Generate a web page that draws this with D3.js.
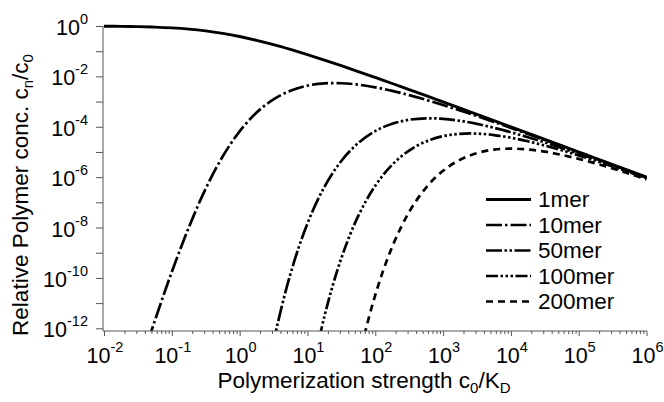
<!DOCTYPE html>
<html><head><meta charset="utf-8">
<script src="https://cdn.jsdelivr.net/npm/d3@7"></script>
<style>
html,body{margin:0;padding:0;background:#fff;}
svg{display:block;}
text{font-family:"Liberation Sans",Arial,Helvetica,sans-serif;fill:#000;}
</style></head><body>
<svg id="chart" width="664" height="402"></svg>
<script>
// Polymerization strength c0/KD (x), quarter-decade samples
const kValues = [0.01, 0.0178, 0.0316, 0.0562, 0.1, 0.178, 0.316, 0.562, 1, 1.78, 3.16, 5.62, 10, 17.8, 31.6, 56.2, 100, 178, 316, 562, 1000, 1780, 3160, 5620, 1e4, 1.78e4, 3.16e4, 5.62e4, 1e5, 1.78e5, 3.16e5, 5.62e5, 1e6];
// Relative polymer concentration cn/c0 for each series
const mer1 = [0.980, 0.966, 0.941, 0.901, 0.839, 0.751, 0.638, 0.509, 0.382, 0.270, 0.182, 0.117, 0.0730, 0.0444, 0.0265, 0.0156, 0.00905, 0.00522, 0.00299, 0.00171, 9.69e-4, 5.49e-4, 3.11e-4, 1.76e-4, 9.9e-5, 5.58e-5, 3.14e-5, 1.77e-5, 9.97e-6, 5.61e-6, 3.16e-6, 1.78e-6, 9.99e-7];
const mer10 = [8.1e-19, 1.3e-16, 1.7e-14, 2.0e-12, 1.73e-10, 1.01e-8, 3.51e-7, 6.6e-6, 6.61e-5, 3.67e-4, 1.23e-3, 2.70e-3, 4.29e-3, 5.28e-3, 5.35e-3, 4.69e-3, 3.68e-3, 2.66e-3, 1.80e-3, 1.17e-3, 7.29e-4, 4.44e-4, 2.65e-4, 1.56e-4, 9.05e-5, 5.22e-5, 2.99e-5, 1.71e-5, 9.69e-6, 5.49e-6, 3.10e-6, 1.75e-6, 9.90e-7];
const mer50 = [null, null, null, null, null, null, null, null, null, 6.8e-17, 2.78e-13, 1.45e-10, 1.45e-8, 4.11e-7, 4.38e-6, 2.27e-5, 6.76e-5, 1.32e-4, 1.90e-4, 2.16e-4, 2.06e-4, 1.72e-4, 1.30e-4, 9.12e-5, 6.07e-5, 3.86e-5, 2.39e-5, 1.44e-5, 8.53e-6, 4.99e-6, 2.89e-6, 1.66e-6, 9.51e-7];
const mer100 = [null, null, null, null, null, null, null, null, null, null, null, null, 2.11e-15, 3.00e-12, 6.05e-10, 2.90e-8, 4.56e-7, 3.11e-6, 1.14e-5, 2.62e-5, 4.24e-5, 5.25e-5, 5.35e-5, 4.69e-5, 3.68e-5, 2.65e-5, 1.80e-5, 1.17e-5, 7.29e-6, 4.44e-6, 2.65e-6, 1.56e-6, 9.05e-7];
const mer200 = [null, null, null, null, null, null, null, null, null, null, null, null, null, null, 1.15e-17, 4.74e-14, 2.08e-11, 1.73e-9, 4.12e-8, 3.87e-7, 1.79e-6, 4.90e-6, 9.02e-6, 1.24e-5, 1.35e-5, 1.26e-5, 1.03e-5, 7.65e-6, 5.31e-6, 3.50e-6, 2.21e-6, 1.36e-6, 8.18e-7];
const seriesNames = ["1mer", "10mer", "50mer", "100mer", "200mer"];
const seriesValues = [mer1, mer10, mer50, mer100, mer200];
const xTickExponents = [-2, -1, 0, 1, 2, 3, 4, 5, 6];
const yTickExponents = [0, -1, -2, -3, -4, -5, -6, -7, -8, -9, -10, -11, -12];
const yLabelExponents = [0, -2, -4, -6, -8, -10, -12];

const dashes = [null, "16,3,2.5,3", "16,2.5,2.5,2.5,2.5,2.5", "12,2.5,2.5,2.5,2.5,2.5,2.5,2.5", "7,5"];

const svg = d3.select("#chart");
const x = d3.scaleLog().domain([1e-2, 1e6]).range([104, 646.5]);
const y = d3.scaleLog().domain([1e-12, 1]).range([328.3, 26]);
const axisY0 = 331, axisX0 = 103;

// clip
svg.append("defs").append("clipPath").attr("id", "plotclip")
  .append("rect").attr("x", 103).attr("y", 0).attr("width", 546).attr("height", axisY0);

// curves
const line = d3.line()
  .defined(d => d[1] != null)
  .x(d => x(d[0])).y(d => y(d[1]))
  .curve(d3.curveCatmullRom.alpha(0.5));
const g = svg.append("g").attr("clip-path", "url(#plotclip)");
seriesValues.forEach((vals, i) => {
  const pts = kValues.map((k, j) => [k, vals[j]]);
  g.append("path").attr("d", line(pts))
    .attr("fill", "none").attr("stroke", "#000")
    .attr("stroke-width", i === 0 ? 2.9 : 2.7)
    .attr("stroke-dasharray", dashes[i])
    .attr("stroke-linecap", "butt").attr("stroke-linejoin", "round");
});

// x axis ticks
const majorX = xTickExponents.map(e => Math.pow(10, e));
const minorX = [];
for (let e = -2; e < 6; e++) for (let m = 2; m <= 9; m++) minorX.push(m * Math.pow(10, e));
const xAxisG = svg.append("g").attr("transform", `translate(0,${axisY0})`);
xAxisG.call(d3.axisBottom(x).tickValues(minorX).tickSize(3).tickSizeOuter(0).tickFormat(""));
xAxisG.append("g").call(d3.axisBottom(x).tickValues(majorX).tickSize(5).tickSizeOuter(0).tickFormat(""));
xAxisG.selectAll(".domain").remove();
xAxisG.selectAll("line").attr("stroke", "#555").attr("stroke-width", 1);

// y axis ticks
const yAxisG = svg.append("g").attr("transform", `translate(${axisX0},0)`);
yAxisG.call(d3.axisLeft(y).tickValues(yTickExponents.map(e => Math.pow(10, e))).tickSize(7).tickSizeOuter(0).tickFormat(""));
yAxisG.selectAll(".domain").remove();
yAxisG.selectAll("line").attr("stroke", "#555").attr("stroke-width", 1);

// axis lines
svg.append("line").attr("x1", axisX0).attr("x2", axisX0).attr("y1", y(1)).attr("y2", axisY0).attr("stroke", "#555").attr("stroke-width", 1);
svg.append("line").attr("x1", axisX0).attr("x2", x(1e6) + 0.5).attr("y1", axisY0).attr("y2", axisY0).attr("stroke", "#555").attr("stroke-width", 1);

// x tick labels
xTickExponents.forEach(e => {
  const t = svg.append("text").attr("x", x(Math.pow(10, e)) + 1).attr("y", 363)
    .attr("text-anchor", "middle").style("font-size", "21.5px");
  t.append("tspan").text("10");
  t.append("tspan").attr("dy", -11).style("font-size", "14.5px").text(String(e));
});
// y tick labels
yLabelExponents.forEach(e => {
  const t = svg.append("text").attr("x", 88).attr("y", y(Math.pow(10, e)) + 9)
    .attr("text-anchor", "end").style("font-size", "21.5px");
  t.append("tspan").text("10");
  t.append("tspan").attr("dy", -11).style("font-size", "14.5px").text(String(e));
});

// axis titles
const xt = svg.append("text").attr("x", 364).attr("y", 388).attr("text-anchor", "middle").style("font-size", "22.5px");
xt.append("tspan").text("Polymerization strength c");
xt.append("tspan").attr("dy", 5).style("font-size", "15px").text("0");
xt.append("tspan").attr("dy", -5).text("/K");
xt.append("tspan").attr("dy", 5).style("font-size", "15px").text("D");

const yt = svg.append("text").attr("transform", "translate(28,195) rotate(-90)").attr("text-anchor", "middle").style("font-size", "22.5px");
yt.append("tspan").text("Relative Polymer conc. c");
yt.append("tspan").attr("dy", 5).style("font-size", "15px").text("n");
yt.append("tspan").attr("dy", -5).text("/c");
yt.append("tspan").attr("dy", 5).style("font-size", "15px").text("0");

// legend
const lg = svg.append("g");
seriesNames.forEach((name, i) => {
  const ly = 199.5 + i * 25.5;
  lg.append("line").attr("x1", 486).attr("x2", 531).attr("y1", ly).attr("y2", ly)
    .attr("stroke", "#000").attr("stroke-width", i === 0 ? 2.9 : 2.7)
    .attr("stroke-dasharray", dashes[i]);
  lg.append("text").attr("x", 538).attr("y", ly + 7.5).style("font-size", "22.5px").text(name);
});
</script>
</body></html>
